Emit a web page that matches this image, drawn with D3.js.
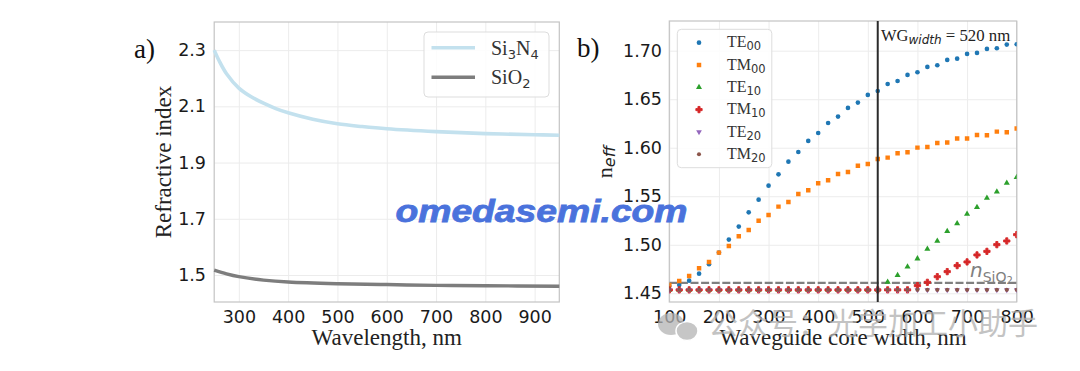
<!DOCTYPE html>
<html>
<head>
<meta charset="utf-8">
<script src="https://cdn.jsdelivr.net/npm/d3@7"></script>
<style>
  body { margin: 0; background: #fff; }
  svg { display: block; }
</style>
</head>
<body>
<svg id="fig" width="1080" height="371"></svg>
<script>
// ---- data, panel a) ----
var wavelength = [250, 260, 275, 300, 325, 350, 375, 400, 450, 500, 550, 600, 700, 800, 900, 950];
var nSi3N4 = [2.300, 2.262, 2.216, 2.165, 2.134, 2.111, 2.092, 2.077, 2.054, 2.038, 2.028, 2.020, 2.010, 2.003, 1.999, 1.997];
var wavelengthSiO2 = [250, 275, 300, 350, 400, 500, 600, 700, 800, 950];
var nSiO2 = [1.517, 1.504, 1.494, 1.482, 1.475, 1.469, 1.466, 1.463, 1.462, 1.460];
var xTicksA = [300, 400, 500, 600, 700, 800, 900];
var yTicksA = [1.5, 1.7, 1.9, 2.1, 2.3];

// ---- data, panel b) ----
var coreWidth = [100, 120, 140, 160, 180, 200, 220, 240, 260, 280, 300, 320, 340, 360, 380, 400, 420, 440,
                 460, 480, 500, 520, 540, 560, 580, 600, 620, 640, 660, 680, 700, 720, 740, 760, 780, 800];
var TE00 = [1.4575, 1.4586, 1.4630, 1.4702, 1.4799, 1.4919, 1.5053, 1.5187, 1.5334, 1.5465, 1.5609, 1.5726,
            1.5856, 1.5956, 1.6070, 1.6152, 1.6255, 1.6321, 1.6410, 1.6465, 1.6544, 1.6585, 1.6657, 1.6688,
            1.6750, 1.6778, 1.6833, 1.6850, 1.6905, 1.6918, 1.6967, 1.6977, 1.7018, 1.7025, 1.7063, 1.7066];
var TM00 = [1.4586, 1.4627, 1.4678, 1.4757, 1.4823, 1.4919, 1.4987, 1.5087, 1.5152, 1.5248, 1.5307, 1.5393,
            1.5441, 1.5523, 1.5561, 1.5633, 1.5664, 1.5729, 1.5750, 1.5815, 1.5832, 1.5884, 1.5898, 1.5943,
            1.5953, 1.6001, 1.6008, 1.6049, 1.6053, 1.6094, 1.6094, 1.6132, 1.6128, 1.6166, 1.6159, 1.6197];
var TE10 = [1.4535, 1.4535, 1.4535, 1.4535, 1.4535, 1.4535, 1.4535, 1.4535, 1.4535, 1.4535, 1.4535, 1.4535,
            1.4535, 1.4535, 1.4535, 1.4535, 1.4535, 1.4535, 1.4535, 1.4535, 1.4535, 1.4535, 1.4616, 1.4685,
            1.4774, 1.4857, 1.4957, 1.5039, 1.5139, 1.5218, 1.5317, 1.5386, 1.5482, 1.5547, 1.5637, 1.5695];
var TM10 = [1.4535, 1.4535, 1.4535, 1.4535, 1.4535, 1.4535, 1.4535, 1.4535, 1.4535, 1.4535, 1.4535, 1.4535,
            1.4535, 1.4535, 1.4535, 1.4535, 1.4535, 1.4535, 1.4535, 1.4535, 1.4535, 1.4535, 1.4535, 1.4535,
            1.4535, 1.4579, 1.4613, 1.4671, 1.4723, 1.4785, 1.4823, 1.4895, 1.4932, 1.5001, 1.5039, 1.5104];
var TE20 = [1.4535, 1.4535, 1.4535, 1.4535, 1.4535, 1.4535, 1.4535, 1.4535, 1.4535, 1.4535, 1.4535, 1.4535,
            1.4535, 1.4535, 1.4535, 1.4535, 1.4535, 1.4535, 1.4535, 1.4535, 1.4535, 1.4535, 1.4535, 1.4535,
            1.4535, 1.4535, 1.4535, 1.4535, 1.4535, 1.4535, 1.4535, 1.4535, 1.4535, 1.4535, 1.4535, 1.4535];
var TM20 = [1.4535, 1.4535, 1.4535, 1.4535, 1.4535, 1.4535, 1.4535, 1.4535, 1.4535, 1.4535, 1.4535, 1.4535,
            1.4535, 1.4535, 1.4535, 1.4535, 1.4535, 1.4535, 1.4535, 1.4535, 1.4535, 1.4535, 1.4535, 1.4535,
            1.4535, 1.4535, 1.4535, 1.4535, 1.4535, 1.4535, 1.4535, 1.4535, 1.4535, 1.4535, 1.4535, 1.4535];
var modeNames = ["TE", "TM", "TE", "TM", "TE", "TM"];
var modeSubs = ["00", "00", "10", "10", "20", "20"];
var nSiO2Line = 1.4607;
var wgWidth = 520;
var xTicksB = [100, 200, 300, 400, 500, 600, 700, 800];
var yTicksB = [1.45, 1.50, 1.55, 1.60, 1.65, 1.70];

var serif = "Liberation Serif",
    sans = "DejaVu Sans";

var svg = d3.select("#fig");

// write text made of several tspans (sub-scripts etc.)
function addParts(text, parts) {
    parts.forEach(function(p) {
        text.append("tspan")
            .attr("font-family", p.f)
            .attr("font-size", p.s)
            .attr("font-style", p.i ? "italic" : null)
            .attr("dy", p.dy || 0)
            .text(p.t);
    });
    return text;
}

// grid, frame and tick labels for one panel
function drawAxes(g, x, y, xt, yt, fmtY, padL) {
    var r = x.range(), b = y.range();
    g.append("g")
        .attr("transform", "translate(0," + b[0] + ")")
        .call(d3.axisBottom(x).tickValues(xt).tickSize(-(b[0] - b[1])).tickFormat(""))
        .call(function(a) { a.select(".domain").remove(); a.selectAll("line").attr("stroke", "#ececec"); });
    g.append("g")
        .attr("transform", "translate(" + r[0] + ",0)")
        .call(d3.axisLeft(y).tickValues(yt).tickSize(-(r[1] - r[0])).tickFormat(""))
        .call(function(a) { a.select(".domain").remove(); a.selectAll("line").attr("stroke", "#ececec"); });

    g.append("rect")
        .attr("x", r[0]).attr("y", b[1])
        .attr("width", r[1] - r[0]).attr("height", b[0] - b[1])
        .attr("fill", "none").attr("stroke", "#c4c4c4").attr("stroke-width", 1.2);

    var ax = g.append("g")
        .attr("transform", "translate(0," + b[0] + ")")
        .call(d3.axisBottom(x).tickValues(xt).tickSize(0).tickPadding(8.6));
    var ay = g.append("g")
        .attr("transform", "translate(" + r[0] + ",0)")
        .call(d3.axisLeft(y).tickValues(yt).tickSize(0).tickPadding(padL).tickFormat(fmtY));
    [ax, ay].forEach(function(a) {
        a.select(".domain").remove();
        a.attr("font-family", sans).attr("font-size", 17.5);
        a.selectAll("text").attr("fill", "#1a1a1a");
    });
}

// ================= panel a) =================
var gA = svg.append("g");
var xA = d3.scaleLinear().domain([250, 950]).range([214.2, 559.3]);
var yA = d3.scaleLinear().domain([1.404, 2.4]).range([302, 22]);
drawAxes(gA, xA, yA, xTicksA, yTicksA, d3.format(".1f"), 8.2);

var lineA = d3.line().curve(d3.curveCatmullRom.alpha(0.5))
    .x(function(d) { return xA(d[0]); })
    .y(function(d) { return yA(d[1]); });

gA.append("path")
    .datum(d3.zip(wavelength, nSi3N4))
    .attr("d", lineA)
    .attr("fill", "none").attr("stroke", "#c3e1ee").attr("stroke-width", 3.6);
gA.append("path")
    .datum(d3.zip(wavelengthSiO2, nSiO2))
    .attr("d", lineA)
    .attr("fill", "none").attr("stroke", "#7d7d7d").attr("stroke-width", 3.4);

// legend a)
var legA = gA.append("g");
legA.append("rect")
    .attr("x", 424).attr("y", 32).attr("width", 125).attr("height", 65).attr("rx", 4)
    .attr("fill", "#fff").attr("fill-opacity", 0.85).attr("stroke", "#dddddd");
[["#c3e1ee", 47.7, [{t: "Si", f: serif, s: 20}, {t: "3", f: sans, s: 13, dy: 4}, {t: "N", f: serif, s: 20, dy: -4}, {t: "4", f: sans, s: 13, dy: 4}]],
 ["#7d7d7d", 77.3, [{t: "SiO", f: serif, s: 20}, {t: "2", f: sans, s: 13, dy: 4}]]].forEach(function(e) {
    legA.append("line")
        .attr("x1", 431.5).attr("x2", 475).attr("y1", e[1]).attr("y2", e[1])
        .attr("stroke", e[0]).attr("stroke-width", 3.6);
    addParts(legA.append("text").attr("x", 491).attr("y", e[1] + 7).attr("fill", "#333"), e[2]);
});

// axis labels a)
gA.append("text")
    .attr("x", 386.7).attr("y", 344.5)
    .attr("text-anchor", "middle")
    .attr("font-family", serif).attr("font-size", 23).attr("fill", "#222")
    .text("Wavelength, nm");
gA.append("text")
    .attr("transform", "translate(171,162) rotate(-90)")
    .attr("text-anchor", "middle")
    .attr("font-family", serif).attr("font-size", 23).attr("fill", "#222")
    .text("Refractive index");
gA.append("text")
    .attr("x", 134).attr("y", 58)
    .attr("font-family", serif).attr("font-size", 27).attr("fill", "#111")
    .text("a)");

// ================= panel b) =================
var gB = svg.append("g");
var xB = d3.scaleLinear().domain([100, 800]).range([669.3, 1016.7]);
var yB = d3.scaleLinear().domain([1.441, 1.7306]).range([302, 21]);
drawAxes(gB, xB, yB, xTicksB, yTicksB, d3.format(".2f"), 7.3);

svg.append("clipPath").attr("id", "clipB")
    .append("rect")
    .attr("x", 669.3).attr("y", 21).attr("width", 1016.7 - 669.3).attr("height", 302 - 21);

var plotB = gB.append("g").attr("clip-path", "url(#clipB)");

// n_SiO2 dashed line
plotB.append("line")
    .attr("x1", xB(100)).attr("x2", xB(800))
    .attr("y1", yB(nSiO2Line)).attr("y2", yB(nSiO2Line))
    .attr("stroke", "#7f7f7f").attr("stroke-width", 2.4).attr("stroke-dasharray", "8,2.6");

var series = [
    {v: TE00, c: "#1f77b4", sym: d3.symbolCircle, size: 17, rot: 0, sw: 0},
    {v: TM00, c: "#ff7f0e", sym: d3.symbolSquare, size: 20, rot: 0, sw: 0},
    {v: TE10, c: "#2ca02c", sym: d3.symbolTriangle, size: 16, rot: 0, sw: 0},
    {v: TM10, c: "#d62728", sym: d3.symbolCross, size: 22, rot: 0, sw: 0.9},
    {v: TE20, c: "#9467bd", sym: d3.symbolTriangle, size: 14, rot: 180, sw: 0},
    {v: TM20, c: "#8c564b", sym: d3.symbolCircle, size: 13, rot: 0, sw: 0}
];

series.forEach(function(s) {
    plotB.selectAll(null)
        .data(d3.zip(coreWidth, s.v))
        .enter()
        .append("path")
            .attr("d", d3.symbol().type(s.sym).size(s.size))
            .attr("transform", function(d) {
                return "translate(" + xB(d[0]) + "," + yB(d[1]) + ") rotate(" + s.rot + ")";
            })
            .attr("fill", s.c)
            .attr("stroke", s.sw ? s.c : null)
            .attr("stroke-width", s.sw || null)
            .attr("stroke-linejoin", "round");
});

// chosen width marker
gB.append("line")
    .attr("x1", xB(wgWidth)).attr("x2", xB(wgWidth))
    .attr("y1", 21).attr("y2", 302)
    .attr("stroke", "#2b2b2b").attr("stroke-width", 2);
addParts(gB.append("text").attr("x", 881).attr("y", 41).attr("fill", "#222"), [
    {t: "WG", f: serif, s: 16.5},
    {t: "width", f: sans, s: 12, i: true, dy: 3},
    {t: " = 520 nm", f: serif, s: 16.8, dy: -3}
]);
addParts(gB.append("text").attr("x", 970).attr("y", 277).attr("fill", "#808080"), [
    {t: "n", f: sans, s: 20, i: true},
    {t: "SiO", f: sans, s: 14, dy: 4.5},
    {t: "2", f: sans, s: 10, dy: 2.5}
]);

// legend b)
var legB = gB.append("g");
legB.append("rect")
    .attr("x", 677.3).attr("y", 29.3).attr("width", 94.5).attr("height", 138.4).attr("rx", 4)
    .attr("fill", "#fff").attr("fill-opacity", 0.85).attr("stroke", "#dddddd");
series.forEach(function(s, i) {
    var yy = 42.7 + i * 22.3;
    legB.append("path")
        .attr("d", d3.symbol().type(s.sym).size(s.size))
        .attr("transform", "translate(699," + yy + ") rotate(" + s.rot + ")")
        .attr("fill", s.c)
        .attr("stroke", s.sw ? s.c : null)
        .attr("stroke-width", s.sw || null);
    addParts(legB.append("text").attr("x", 727).attr("y", yy + 4.7).attr("fill", "#333"), [
        {t: modeNames[i], f: serif, s: 16},
        {t: modeSubs[i], f: sans, s: 11.5, dy: 3}
    ]);
});

// axis labels b)
gB.append("text")
    .attr("x", 843).attr("y", 344.5)
    .attr("text-anchor", "middle")
    .attr("font-family", serif).attr("font-size", 23).attr("fill", "#222")
    .text("Waveguide core width, nm");
addParts(gB.append("text")
    .attr("transform", "translate(612,162) rotate(-90)")
    .attr("text-anchor", "middle").attr("fill", "#222"), [
    {t: "n", f: serif, s: 22},
    {t: "eff", f: sans, s: 16, i: true, dy: 3}
]);
gB.append("text")
    .attr("x", 577).attr("y", 57)
    .attr("font-family", serif).attr("font-size", 27).attr("fill", "#111")
    .text("b)");

// ---- watermarks on top of the figure ----
svg.append("text")
    .attr("x", 395.5).attr("y", 221.7)
    .attr("textLength", 292).attr("lengthAdjust", "spacingAndGlyphs")
    .attr("font-family", "Liberation Sans").attr("font-weight", "bold").attr("font-style", "italic")
    .attr("font-size", 31).attr("fill", "#4a72dc")
    .attr("stroke", "#4a72dc").attr("stroke-width", 0.8)
    .text("omedasemi.com");

var wm = svg.append("g").attr("opacity", 0.75);
wm.append("ellipse").attr("cx", 671).attr("cy", 324).attr("rx", 13).attr("ry", 11).attr("fill", "#b4b4b4");
wm.append("ellipse").attr("cx", 687).attr("cy", 331).attr("rx", 11).attr("ry", 9.5)
    .attr("fill", "#b4b4b4").attr("stroke", "#fff").attr("stroke-width", 1.5);
wm.append("text")
    .attr("x", 708).attr("y", 334)
    .attr("font-family", "Noto Sans CJK SC").attr("font-size", 30).attr("fill", "#b0b0b0")
    .text("公众号：光学加工小助手");
</script>
</body>
</html>
